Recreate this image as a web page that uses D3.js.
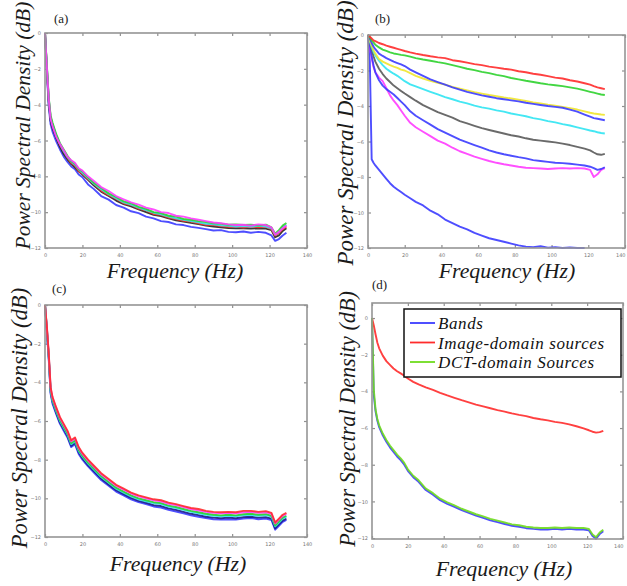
<!DOCTYPE html>
<html>
<head>
<meta charset="utf-8">
<title>Power Spectral Density</title>
<script src="https://d3js.org/d3.v7.min.js"></script>
<style>
  body { margin: 0; background: #fff; }
  .tick text { font-family: "DejaVu Sans", sans-serif; font-size: 5px; fill: #777; }
  .tick line { stroke: #909090; stroke-width: 1.2; }
  .domain { display: none; }
  .frame { fill: none; stroke: #959595; stroke-width: 1.6; }
  .psd { fill: none; stroke-width: 1.9; stroke-linejoin: round; stroke-opacity: 0.9; }
</style>
</head>
<body>
<div id="chart"></div>
<script>

// frequency axis shared by every curve (Hz)
const freq = [0, 1, 2, 3, 4, 6, 8, 10, 12, 14, 16, 18, 20,
  23, 26, 30, 34, 38, 42, 46, 50, 54, 58, 62, 66,
  70, 74, 78, 82, 86, 90, 94, 98, 102, 106, 110, 114,
  118, 121, 123, 125, 127, 129];

const xTicks = [0, 20, 40, 60, 80, 100, 120, 140];
const yTicks = [0, -2, -4, -6, -8, -10, -12];

// (a)
const aBlue = [0, -2.2, -4.1, -5.1, -5.5, -6.05, -6.5, -6.9, -7.2, -7.45, -7.6, -7.9, -8.05,
  -8.45, -8.7, -9.1, -9.3, -9.6, -9.75, -9.95, -10.05, -10.25, -10.35, -10.5, -10.55,
  -10.68, -10.72, -10.82, -10.88, -10.95, -11.02, -11.0, -11.1, -11.12, -11.08, -11.15, -11.1,
  -11.15, -11.3, -11.6, -11.5, -11.3, -11.15];
const aRed = [0, -1.9, -3.7, -4.7, -5.1, -5.75, -6.25, -6.6, -6.95, -7.25, -7.4, -7.7, -7.85,
  -8.15, -8.4, -8.8, -9.05, -9.25, -9.5, -9.6, -9.8, -9.9, -10.1, -10.15, -10.3,
  -10.38, -10.48, -10.52, -10.62, -10.7, -10.72, -10.78, -10.82, -10.8, -10.86, -10.8, -10.85,
  -10.82, -10.95, -11.3, -11.15, -10.95, -10.8];
const aGreen = [0, -1.8, -3.6, -4.6, -5.0, -5.65, -6.15, -6.5, -6.85, -7.15, -7.3, -7.6, -7.72,
  -8.05, -8.35, -8.65, -8.95, -9.15, -9.4, -9.5, -9.7, -9.82, -10.0, -10.05, -10.2,
  -10.25, -10.38, -10.42, -10.5, -10.55, -10.62, -10.65, -10.7, -10.68, -10.72, -10.7, -10.75,
  -10.7, -10.85, -11.2, -11.0, -10.75, -10.6];
const aMagenta = [0, -1.9, -3.7, -4.8, -5.2, -5.8, -6.2, -6.55, -6.9, -7.1, -7.25, -7.55, -7.68,
  -8.0, -8.25, -8.6, -8.82, -9.1, -9.28, -9.45, -9.58, -9.75, -9.85, -10.0, -10.05,
  -10.2, -10.25, -10.35, -10.42, -10.5, -10.58, -10.62, -10.68, -10.72, -10.7, -10.75, -10.68,
  -10.72, -10.85, -11.25, -11.1, -10.9, -10.75];
const aBlack = [0, -2.0, -3.9, -4.9, -5.3, -5.85, -6.35, -6.75, -7.05, -7.3, -7.5, -7.72, -7.9,
  -8.2, -8.5, -8.85, -9.1, -9.35, -9.55, -9.68, -9.85, -10.0, -10.15, -10.22, -10.35,
  -10.45, -10.52, -10.6, -10.67, -10.75, -10.8, -10.85, -10.88, -10.9, -10.9, -10.92, -10.9,
  -10.92, -11.0, -11.4, -11.3, -11.05, -10.9];
const aCyan = [0, -1.85, -3.65, -4.7, -5.1, -5.7, -6.2, -6.6, -6.92, -7.18, -7.35, -7.62, -7.8,
  -8.1, -8.4, -8.72, -9.0, -9.22, -9.45, -9.58, -9.75, -9.88, -10.03, -10.12, -10.24,
  -10.35, -10.42, -10.5, -10.56, -10.65, -10.68, -10.74, -10.76, -10.8, -10.78, -10.8, -10.76,
  -10.8, -10.9, -11.25, -11.1, -10.85, -10.7];

// (b)
const bRed = [0, -0.1, -0.2, -0.3, -0.35, -0.45, -0.52, -0.6, -0.66, -0.72, -0.78, -0.84, -0.9,
  -0.98, -1.05, -1.13, -1.2, -1.26, -1.3, -1.42, -1.48, -1.56, -1.64, -1.7, -1.78,
  -1.84, -1.9, -1.95, -2.04, -2.1, -2.18, -2.24, -2.32, -2.4, -2.45, -2.55, -2.62,
  -2.72, -2.8, -2.88, -2.95, -3.0, -3.05];
const bGreen = [0, -0.15, -0.3, -0.42, -0.55, -0.7, -0.82, -0.9, -0.98, -1.04, -1.08, -1.12, -1.15,
  -1.22, -1.3, -1.38, -1.45, -1.53, -1.6, -1.7, -1.8, -1.9, -1.98, -2.08, -2.15,
  -2.25, -2.32, -2.42, -2.5, -2.58, -2.65, -2.72, -2.78, -2.83, -2.88, -2.95, -3.02,
  -3.12, -3.2, -3.25, -3.3, -3.35, -3.38];
const bBlue1 = [0, -0.2, -0.45, -0.65, -0.8, -1.05, -1.18, -1.3, -1.4, -1.5, -1.58, -1.66, -1.75,
  -1.95, -2.1, -2.3, -2.5, -2.65, -2.8, -2.95, -3.08, -3.2, -3.3, -3.4, -3.48,
  -3.56, -3.62, -3.68, -3.74, -3.82, -3.88, -3.94, -4.0, -4.05, -4.1, -4.2, -4.32,
  -4.48, -4.6, -4.68, -4.72, -4.76, -4.8];
const bYellow = [0, -0.3, -0.6, -0.85, -1.05, -1.35, -1.5, -1.6, -1.7, -1.78, -1.85, -1.95, -2.0,
  -2.15, -2.3, -2.45, -2.58, -2.7, -2.8, -2.92, -3.02, -3.12, -3.22, -3.3, -3.38,
  -3.45, -3.52, -3.58, -3.65, -3.72, -3.8, -3.85, -3.92, -3.98, -4.05, -4.12, -4.2,
  -4.3, -4.38, -4.42, -4.45, -4.48, -4.5];
const bCyan = [0, -0.35, -0.7, -0.95, -1.15, -1.45, -1.7, -1.9, -2.05, -2.18, -2.3, -2.45, -2.6,
  -2.78, -2.9, -3.05, -3.2, -3.35, -3.5, -3.62, -3.75, -3.85, -3.98, -4.08, -4.15,
  -4.25, -4.32, -4.42, -4.5, -4.58, -4.68, -4.75, -4.85, -4.92, -5.02, -5.1, -5.2,
  -5.3, -5.38, -5.42, -5.48, -5.52, -5.55];
const bGray = [0, -0.4, -0.8, -1.2, -1.5, -1.9, -2.2, -2.45, -2.65, -2.85, -3.0, -3.15, -3.3,
  -3.5, -3.7, -3.95, -4.15, -4.35, -4.5, -4.65, -4.85, -4.98, -5.12, -5.25, -5.35,
  -5.45, -5.55, -5.65, -5.72, -5.82, -5.9, -5.95, -6.0, -6.05, -6.12, -6.2, -6.3,
  -6.4, -6.5, -6.62, -6.72, -6.75, -6.7];
const bBlue2 = [0, -0.6, -1.2, -1.7, -2.1, -2.55, -2.85, -3.05, -3.2, -3.35, -3.55, -3.75, -3.95,
  -4.3, -4.55, -4.8, -5.05, -5.3, -5.5, -5.7, -5.9, -6.05, -6.2, -6.35, -6.5,
  -6.62, -6.72, -6.8, -6.88, -6.95, -7.05, -7.1, -7.15, -7.2, -7.22, -7.25, -7.3,
  -7.35, -7.42, -7.5, -7.6, -7.55, -7.45];
const bMagenta = [0, -0.7, -1.3, -1.8, -2.1, -2.4, -2.6, -3.0, -3.4, -3.7, -3.95, -4.25, -4.55,
  -4.95, -5.2, -5.45, -5.7, -5.95, -6.12, -6.35, -6.55, -6.7, -6.85, -6.98, -7.1,
  -7.2, -7.28, -7.35, -7.42, -7.48, -7.5, -7.52, -7.55, -7.52, -7.5, -7.52, -7.5,
  -7.52, -7.6, -8.0, -7.85, -7.6, -7.5];
const bBlue3 = [0, -1.5, -7.0, -7.2, -7.35, -7.6, -7.85, -8.1, -8.35, -8.55, -8.7, -8.85, -9.0,
  -9.2, -9.4, -9.6, -9.9, -10.1, -10.4, -10.6, -10.8, -10.95, -11.15, -11.3, -11.45,
  -11.55, -11.65, -11.75, -11.85, -11.92, -11.95, -11.9, -11.98, -11.95, -12.0, -11.97, -12.0,
  -12.0, null, null, null, null, null];

// (c)
const cRed = [0, -1.1, -2.5, -4.25, -4.75, -5.3, -5.8, -6.15, -6.5, -7.0, -6.85, -7.35, -7.65,
  -8.0, -8.3, -8.7, -9.0, -9.3, -9.5, -9.7, -9.85, -9.95, -10.05, -10.1, -10.22,
  -10.3, -10.4, -10.5, -10.55, -10.65, -10.7, -10.72, -10.7, -10.72, -10.65, -10.65, -10.7,
  -10.66, -10.75, -11.25, -11.05, -10.85, -10.75];
const cMagenta = [0, -1.15, -2.55, -4.3, -4.8, -5.35, -5.85, -6.2, -6.55, -7.05, -6.9, -7.4, -7.7,
  -8.05, -8.35, -8.75, -9.05, -9.35, -9.55, -9.75, -9.9, -10.0, -10.1, -10.15, -10.28,
  -10.35, -10.45, -10.55, -10.62, -10.7, -10.75, -10.78, -10.75, -10.78, -10.72, -10.7, -10.75,
  -10.72, -10.8, -11.3, -11.1, -10.9, -10.8];
const cGreen = [0, -1.2, -2.6, -4.4, -4.9, -5.45, -5.95, -6.3, -6.65, -7.15, -7.0, -7.5, -7.8,
  -8.15, -8.45, -8.85, -9.15, -9.45, -9.65, -9.85, -10.0, -10.1, -10.2, -10.25, -10.38,
  -10.45, -10.55, -10.65, -10.72, -10.8, -10.85, -10.88, -10.85, -10.88, -10.82, -10.8, -10.85,
  -10.82, -10.9, -11.4, -11.2, -11.0, -10.9];
const cCyan = [0, -1.25, -2.65, -4.45, -4.95, -5.5, -6.0, -6.35, -6.7, -7.2, -7.05, -7.55, -7.85,
  -8.2, -8.5, -8.9, -9.2, -9.5, -9.7, -9.9, -10.05, -10.15, -10.25, -10.3, -10.43,
  -10.5, -10.6, -10.7, -10.77, -10.85, -10.9, -10.93, -10.9, -10.93, -10.87, -10.85, -10.9,
  -10.87, -10.95, -11.45, -11.25, -11.05, -10.95];
const cBlack = [0, -1.3, -2.7, -4.5, -5.0, -5.58, -6.08, -6.42, -6.78, -7.28, -7.12, -7.62, -7.92,
  -8.28, -8.58, -8.98, -9.28, -9.58, -9.78, -9.98, -10.13, -10.23, -10.35, -10.4, -10.52,
  -10.6, -10.7, -10.8, -10.87, -10.95, -11.0, -11.03, -11.0, -11.03, -10.97, -10.95, -11.0,
  -10.97, -11.05, -11.55, -11.35, -11.15, -11.05];
const cBlue = [0, -1.4, -2.8, -4.6, -5.1, -5.65, -6.15, -6.5, -6.85, -7.35, -7.2, -7.7, -8.0,
  -8.35, -8.65, -9.05, -9.35, -9.65, -9.85, -10.05, -10.2, -10.3, -10.42, -10.48, -10.6,
  -10.68, -10.78, -10.88, -10.95, -11.02, -11.08, -11.1, -11.08, -11.1, -11.05, -11.02, -11.08,
  -11.05, -11.12, -11.62, -11.42, -11.22, -11.12];

// (d)
const dRed = [0, -0.4, -0.9, -1.35, -1.65, -2.05, -2.35, -2.55, -2.75, -2.9, -3.02, -3.15, -3.3,
  -3.48, -3.62, -3.78, -3.92, -4.08, -4.22, -4.35, -4.48, -4.6, -4.72, -4.82, -4.92,
  -5.02, -5.1, -5.2, -5.28, -5.35, -5.45, -5.52, -5.58, -5.66, -5.72, -5.8, -5.9,
  -6.02, -6.12, -6.2, -6.25, -6.22, -6.15];
const dGreen = [0, -3.9, -5.0, -5.5, -5.85, -6.3, -6.65, -6.95, -7.2, -7.45, -7.65, -7.9, -8.25,
  -8.6, -8.85, -9.3, -9.55, -9.85, -10.05, -10.22, -10.4, -10.55, -10.7, -10.82, -10.95,
  -11.05, -11.15, -11.25, -11.3, -11.38, -11.42, -11.45, -11.45, -11.42, -11.45, -11.42, -11.45,
  -11.45, -11.5, -11.8, -11.95, -11.7, -11.55];
const dBlue = [0, -4.2, -5.1, -5.6, -5.95, -6.4, -6.75, -7.05, -7.3, -7.55, -7.75, -8.0, -8.33,
  -8.68, -8.93, -9.38, -9.63, -9.93, -10.13, -10.3, -10.48, -10.63, -10.78, -10.9, -11.03,
  -11.13, -11.23, -11.33, -11.38, -11.46, -11.5, -11.53, -11.53, -11.5, -11.53, -11.5, -11.53,
  -11.53, -11.58, -11.88, -12.03, -11.78, -11.63];

const legendNames = ["Bands", "Image-domain sources", "DCT-domain Sources"];

const blue = "#3b3bff", red = "#ff2b2b", green = "#2ed12e", magenta = "#ff3cff",
      cyan = "#30e4f2", yellow = "#efe52e", gray = "#5a5a5a", black = "#222", lime = "#6fdc1e";

const serif = '"Liberation Serif", "Times New Roman", Times, serif';

const panels = [
  { tag: "(a)", box: [45, 33, 307, 248], yDom: [-12, 0],
    tagAt: [54, 23], yLabAt: [30, 125.5], yLabSize: 21.5, xLabAt: [175, 278],
    series: [[aBlue, blue], [aBlack, black], [aRed, red], [aCyan, cyan], [aGreen, green], [aMagenta, magenta]] },
  { tag: "(b)", box: [368, 35, 625, 248], yDom: [-12, 0],
    tagAt: [375, 23], yLabAt: [353, 133], yLabSize: 23, xLabAt: [507, 278],
    series: [[bBlue3, blue], [bMagenta, magenta], [bBlue2, blue], [bGray, gray], [bCyan, cyan],
             [bYellow, yellow], [bBlue1, blue], [bGreen, green], [bRed, red]] },
  { tag: "(c)", box: [45, 305, 307, 537], yDom: [-12, 0],
    tagAt: [52, 293], yLabAt: [27, 418], yLabSize: 22.6, xLabAt: [178, 571],
    series: [[cBlue, blue], [cBlack, "#1a1a8a"], [cCyan, cyan], [cGreen, green], [cMagenta, magenta], [cRed, red]] },
  { tag: "(d)", box: [372, 303, 623, 539], yDom: [-12.05, 0.82],
    tagAt: [372, 289], yLabAt: [355, 419], yLabSize: 22.2, xLabAt: [504, 576],
    series: [[dBlue, blue], [dRed, red], [dGreen, lime]] }
];

const svg = d3.select("#chart").append("svg")
    .attr("width", 627)
    .attr("height", 586);

panels.forEach(drawPanel);

function drawPanel(p) {
  const [x0, y0, x1, y1] = p.box;
  const x = d3.scaleLinear().domain([0, 140]).range([x0, x1]);
  const y = d3.scaleLinear().domain(p.yDom).range([y1, y0]);
  const g = svg.append("g");

  g.append("g").attr("transform", `translate(0,${y1})`)
    .call(d3.axisBottom(x).tickValues(xTicks).tickSize(-3).tickPadding(5))
    .selectAll(".tick text")
    .filter(d => x(d) > 620)
    .attr("text-anchor", "end"); // keep the last label inside the window
  g.append("g").attr("transform", `translate(0,${y0})`)
    .call(d3.axisTop(x).tickValues(xTicks).tickSize(-3).tickFormat(""));
  g.append("g").attr("transform", `translate(${x0},0)`)
    .call(d3.axisLeft(y).tickValues(yTicks).tickSize(-3).tickPadding(4));
  g.append("g").attr("transform", `translate(${x1},0)`)
    .call(d3.axisRight(y).tickValues(yTicks).tickSize(-3).tickFormat(""));

  const line = d3.line()
    .defined(d => d[1] != null)
    .x(d => x(d[0]))
    .y(d => y(d[1]));

  g.selectAll("path.psd")
    .data(p.series)
    .enter()
    .append("path")
    .attr("class", "psd")
    .attr("stroke", d => d[1])
    .attr("d", d => line(freq.map((f, i) => [f, d[0][i]])));

  g.append("rect")
    .attr("class", "frame")
    .attr("x", x0).attr("y", y0)
    .attr("width", x1 - x0).attr("height", y1 - y0);

  g.append("text")
    .style("font-family", serif).style("font-size", "13px").style("fill", "#222")
    .attr("x", p.tagAt[0]).attr("y", p.tagAt[1])
    .text(p.tag);

  g.append("text")
    .style("font-family", serif).style("font-style", "italic")
    .style("font-size", p.yLabSize + "px").style("fill", "#1a1a1a")
    .attr("text-anchor", "middle")
    .attr("transform", `translate(${p.yLabAt[0]},${p.yLabAt[1]}) rotate(-90)`)
    .text("Power Spectral Density (dB)");

  g.append("text")
    .style("font-family", serif).style("font-style", "italic")
    .style("font-size", "21.8px").style("fill", "#1a1a1a")
    .attr("text-anchor", "middle")
    .attr("x", p.xLabAt[0]).attr("y", p.xLabAt[1])
    .text("Frequency (Hz)");
}

// legend of panel (d)
const legendColors = [blue, red, lime];
const leg = svg.append("g");
leg.append("rect")
  .attr("x", 404).attr("y", 309)
  .attr("width", 217).attr("height", 68)
  .attr("fill", "#fff").attr("stroke", "#111").attr("stroke-width", 1.5);

legendNames.forEach((name, i) => {
  const base = 329 + i * 19.5;
  leg.append("line")
    .attr("x1", 410).attr("x2", 435)
    .attr("y1", base - 6).attr("y2", base - 6)
    .attr("stroke", legendColors[i]).attr("stroke-width", 1.8);
  leg.append("text")
    .style("font-family", serif).style("font-style", "italic")
    .style("font-size", "17px").style("letter-spacing", "0.6px").style("fill", "#111")
    .attr("x", 438).attr("y", base)
    .text(name);
});

</script>
</body>
</html>
